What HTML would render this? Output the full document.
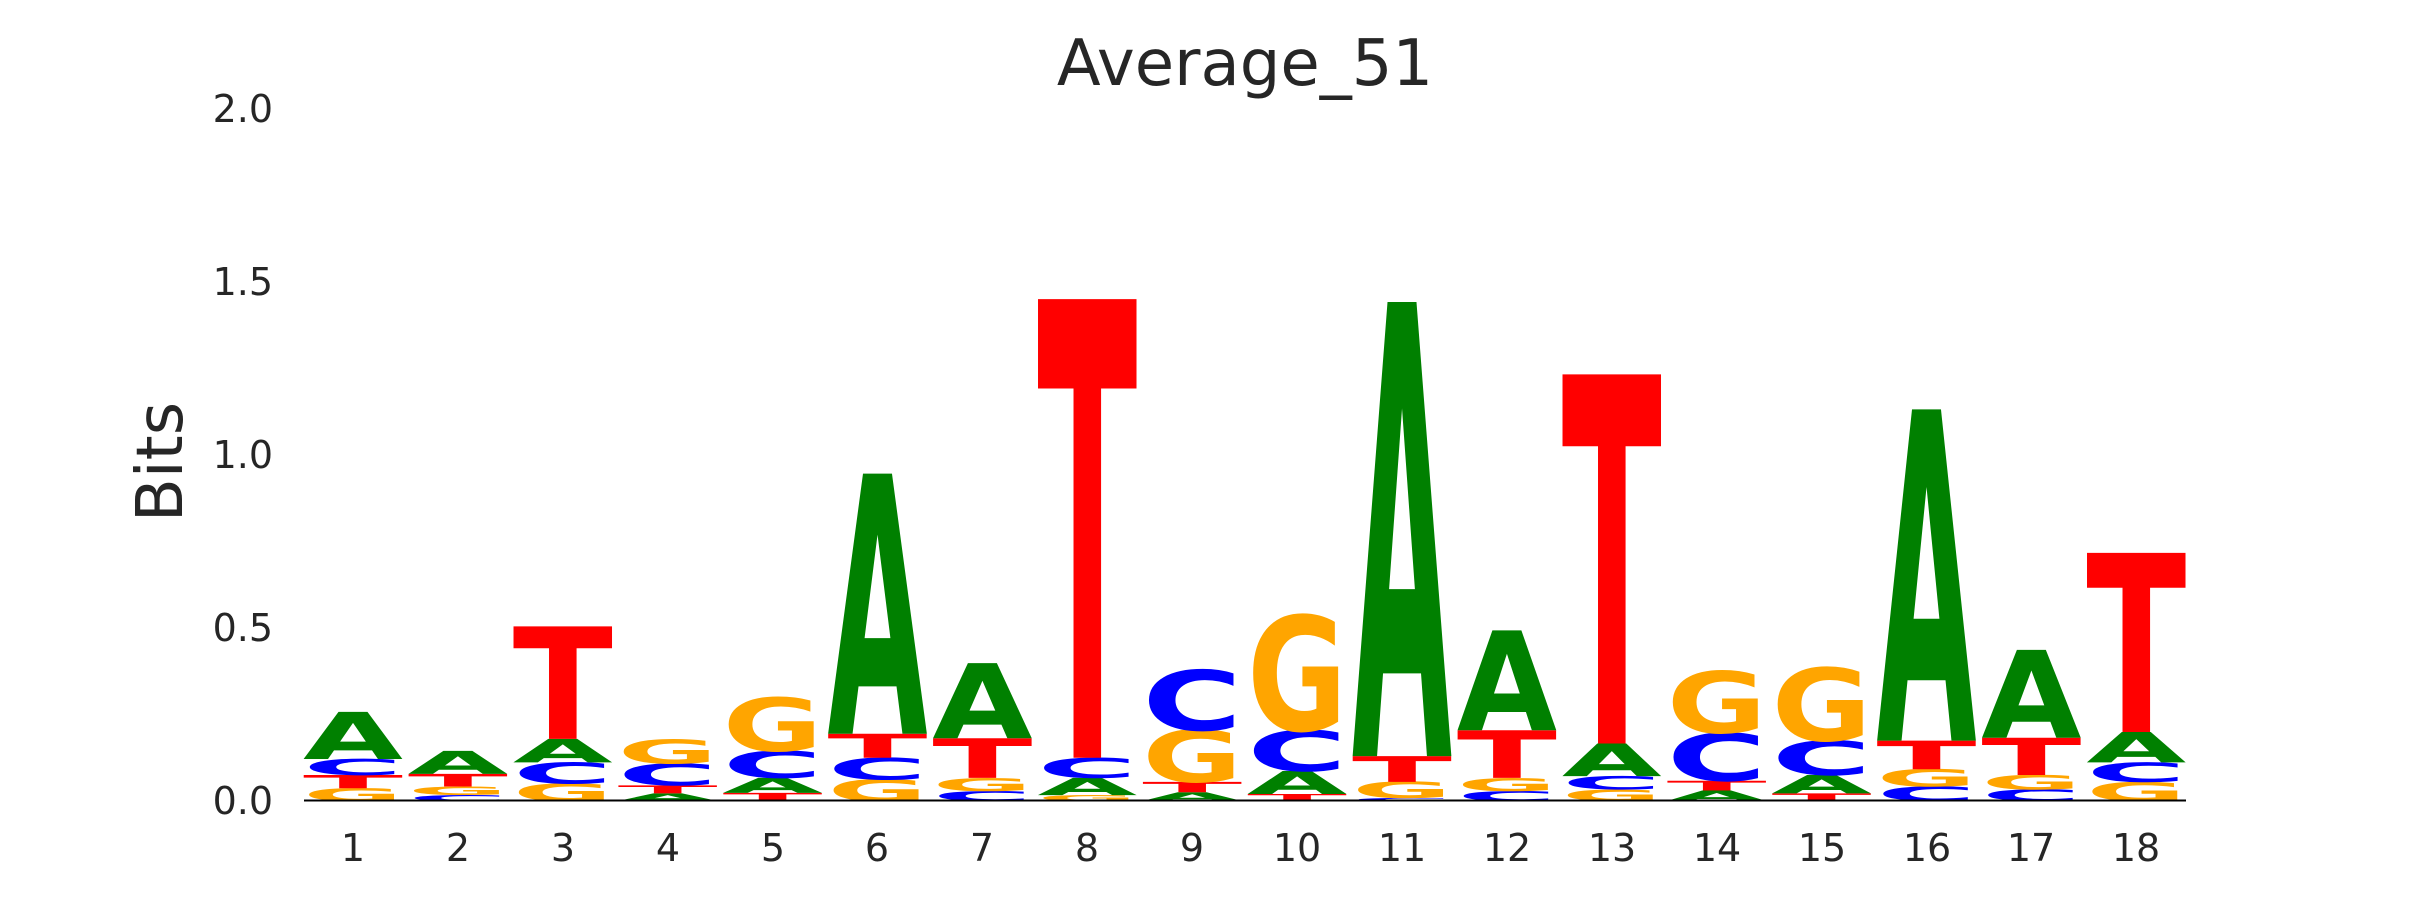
<!DOCTYPE html>
<html><head><meta charset="utf-8"><style>
html,body{margin:0;padding:0;background:#fff;}
svg{display:block;}
</style></head><body>
<svg width="2430" height="900" viewBox="0 0 2430 900" xmlns="http://www.w3.org/2000/svg">
<rect width="2430" height="900" fill="#fff"/>
<text x="1245" y="85" font-family="DejaVu Sans, Liberation Sans, sans-serif" font-size="64" fill="#262626" text-anchor="middle">Average_51</text>
<text transform="translate(182,462) rotate(-90)" font-family="DejaVu Sans, Liberation Sans, sans-serif" font-size="64" fill="#262626" text-anchor="middle">Bits</text>
<g font-family="DejaVu Sans, Liberation Sans, sans-serif" font-size="38" fill="#262626" text-anchor="end">
<text x="273" y="814">0.0</text>
<text x="273" y="641">0.5</text>
<text x="273" y="468">1.0</text>
<text x="273" y="295">1.5</text>
<text x="273" y="122">2.0</text>
</g>
<g font-family="DejaVu Sans, Liberation Sans, sans-serif" font-size="38" fill="#262626" text-anchor="middle">
<text x="353" y="861">1</text><text x="458" y="861">2</text><text x="563" y="861">3</text><text x="668" y="861">4</text><text x="773" y="861">5</text><text x="877" y="861">6</text><text x="982" y="861">7</text><text x="1087" y="861">8</text><text x="1192" y="861">9</text><text x="1297" y="861">10</text><text x="1402" y="861">11</text><text x="1507" y="861">12</text><text x="1612" y="861">13</text><text x="1717" y="861">14</text><text x="1822" y="861">15</text><text x="1927" y="861">16</text><text x="2031" y="861">17</text><text x="2136" y="861">18</text>
</g>
<g transform="scale(1,0.5741)" font-family="DejaVu Sans, Liberation Sans, sans-serif" font-weight="bold" font-size="100">
<text x="303" textLength="100" lengthAdjust="spacingAndGlyphs" fill="#ffa500" transform="translate(0,1395) scale(1,.302)">G</text>
<text x="303" textLength="100" lengthAdjust="spacingAndGlyphs" fill="#ff0000" transform="translate(0,1373) scale(1,.316)">T</text>
<text x="303" textLength="100" lengthAdjust="spacingAndGlyphs" fill="#0000ff" transform="translate(0,1350) scale(1,.384)">C</text>
<text x="303" textLength="100" lengthAdjust="spacingAndGlyphs" fill="#008000" transform="translate(0,1322) scale(1,1.125)">A</text>
<text x="407.9" textLength="100" lengthAdjust="spacingAndGlyphs" fill="#0000ff" transform="translate(0,1395) scale(1,.137)">C</text>
<text x="407.9" textLength="100" lengthAdjust="spacingAndGlyphs" fill="#ffa500" transform="translate(0,1385) scale(1,.206)">G</text>
<text x="407.9" textLength="100" lengthAdjust="spacingAndGlyphs" fill="#ff0000" transform="translate(0,1370) scale(1,.302)">T</text>
<text x="407.9" textLength="100" lengthAdjust="spacingAndGlyphs" fill="#008000" transform="translate(0,1348) scale(1,.549)">A</text>
<text x="512.8" textLength="100" lengthAdjust="spacingAndGlyphs" fill="#ffa500" transform="translate(0,1395) scale(1,.412)">G</text>
<text x="512.8" textLength="100" lengthAdjust="spacingAndGlyphs" fill="#0000ff" transform="translate(0,1365) scale(1,.508)">C</text>
<text x="512.8" textLength="100" lengthAdjust="spacingAndGlyphs" fill="#008000" transform="translate(0,1328) scale(1,.562)">A</text>
<text x="512.8" textLength="100" lengthAdjust="spacingAndGlyphs" fill="#ff0000" transform="translate(0,1287) scale(1,2.689)">T</text>
<text x="617.7" textLength="100" lengthAdjust="spacingAndGlyphs" fill="#008000" transform="translate(0,1395) scale(1,.178)">A</text>
<text x="617.7" textLength="100" lengthAdjust="spacingAndGlyphs" fill="#ff0000" transform="translate(0,1382) scale(1,.192)">T</text>
<text x="617.7" textLength="100" lengthAdjust="spacingAndGlyphs" fill="#0000ff" transform="translate(0,1368) scale(1,.521)">C</text>
<text x="617.7" textLength="100" lengthAdjust="spacingAndGlyphs" fill="#ffa500" transform="translate(0,1330) scale(1,.576)">G</text>
<text x="722.6" textLength="100" lengthAdjust="spacingAndGlyphs" fill="#ff0000" transform="translate(0,1395) scale(1,.192)">T</text>
<text x="722.6" textLength="100" lengthAdjust="spacingAndGlyphs" fill="#008000" transform="translate(0,1381) scale(1,.357)">A</text>
<text x="722.6" textLength="100" lengthAdjust="spacingAndGlyphs" fill="#0000ff" transform="translate(0,1355) scale(1,.645)">C</text>
<text x="722.6" textLength="100" lengthAdjust="spacingAndGlyphs" fill="#ffa500" transform="translate(0,1308) scale(1,1.276)">G</text>
<text x="827.5" textLength="100" lengthAdjust="spacingAndGlyphs" fill="#ffa500" transform="translate(0,1395) scale(1,.508)">G</text>
<text x="827.5" textLength="100" lengthAdjust="spacingAndGlyphs" fill="#0000ff" transform="translate(0,1358) scale(1,.521)">C</text>
<text x="827.5" textLength="100" lengthAdjust="spacingAndGlyphs" fill="#ff0000" transform="translate(0,1320) scale(1,.576)">T</text>
<text x="827.5" textLength="100" lengthAdjust="spacingAndGlyphs" fill="#008000" transform="translate(0,1278) scale(1,6.214)">A</text>
<text x="932.4" textLength="100" lengthAdjust="spacingAndGlyphs" fill="#0000ff" transform="translate(0,1395) scale(1,.233)">C</text>
<text x="932.4" textLength="100" lengthAdjust="spacingAndGlyphs" fill="#ffa500" transform="translate(0,1378) scale(1,.316)">G</text>
<text x="932.4" textLength="100" lengthAdjust="spacingAndGlyphs" fill="#ff0000" transform="translate(0,1355) scale(1,.947)">T</text>
<text x="932.4" textLength="100" lengthAdjust="spacingAndGlyphs" fill="#008000" transform="translate(0,1286) scale(1,1.797)">A</text>
<text x="1037.3" textLength="100" lengthAdjust="spacingAndGlyphs" fill="#ffa500" transform="translate(0,1395) scale(1,.137)">G</text>
<text x="1037.3" textLength="100" lengthAdjust="spacingAndGlyphs" fill="#008000" transform="translate(0,1385) scale(1,.412)">A</text>
<text x="1037.3" textLength="100" lengthAdjust="spacingAndGlyphs" fill="#0000ff" transform="translate(0,1355) scale(1,.480)">C</text>
<text x="1037.3" textLength="100" lengthAdjust="spacingAndGlyphs" fill="#ff0000" transform="translate(0,1320) scale(1,10.96)">T</text>
<text x="1142.2" textLength="100" lengthAdjust="spacingAndGlyphs" fill="#008000" transform="translate(0,1395) scale(1,.206)">A</text>
<text x="1142.2" textLength="100" lengthAdjust="spacingAndGlyphs" fill="#ff0000" transform="translate(0,1380) scale(1,.247)">T</text>
<text x="1142.2" textLength="100" lengthAdjust="spacingAndGlyphs" fill="#ffa500" transform="translate(0,1362) scale(1,1.235)">G</text>
<text x="1142.2" textLength="100" lengthAdjust="spacingAndGlyphs" fill="#0000ff" transform="translate(0,1272) scale(1,1.440)">C</text>
<text x="1247.1" textLength="100" lengthAdjust="spacingAndGlyphs" fill="#ff0000" transform="translate(0,1395) scale(1,.165)">T</text>
<text x="1247.1" textLength="100" lengthAdjust="spacingAndGlyphs" fill="#008000" transform="translate(0,1383) scale(1,.549)">A</text>
<text x="1247.1" textLength="100" lengthAdjust="spacingAndGlyphs" fill="#0000ff" transform="translate(0,1343) scale(1,.974)">C</text>
<text x="1247.1" textLength="100" lengthAdjust="spacingAndGlyphs" fill="#ffa500" transform="translate(0,1272) scale(1,2.743)">G</text>
<text x="1352" textLength="100" lengthAdjust="spacingAndGlyphs" fill="#0000ff" transform="translate(0,1395) scale(1,.069)">C</text>
<text x="1352" textLength="100" lengthAdjust="spacingAndGlyphs" fill="#ffa500" transform="translate(0,1390) scale(1,.384)">G</text>
<text x="1352" textLength="100" lengthAdjust="spacingAndGlyphs" fill="#ff0000" transform="translate(0,1362) scale(1,.617)">T</text>
<text x="1352" textLength="100" lengthAdjust="spacingAndGlyphs" fill="#008000" transform="translate(0,1317) scale(1,10.85)">A</text>
<text x="1456.9" textLength="100" lengthAdjust="spacingAndGlyphs" fill="#0000ff" transform="translate(0,1395) scale(1,.233)">C</text>
<text x="1456.9" textLength="100" lengthAdjust="spacingAndGlyphs" fill="#ffa500" transform="translate(0,1378) scale(1,.316)">G</text>
<text x="1456.9" textLength="100" lengthAdjust="spacingAndGlyphs" fill="#ff0000" transform="translate(0,1355) scale(1,1.139)">T</text>
<text x="1456.9" textLength="100" lengthAdjust="spacingAndGlyphs" fill="#008000" transform="translate(0,1272) scale(1,2.387)">A</text>
<text x="1561.8" textLength="100" lengthAdjust="spacingAndGlyphs" fill="#ffa500" transform="translate(0,1395) scale(1,.274)">G</text>
<text x="1561.8" textLength="100" lengthAdjust="spacingAndGlyphs" fill="#0000ff" transform="translate(0,1375) scale(1,.316)">C</text>
<text x="1561.8" textLength="100" lengthAdjust="spacingAndGlyphs" fill="#008000" transform="translate(0,1352) scale(1,.782)">A</text>
<text x="1561.8" textLength="100" lengthAdjust="spacingAndGlyphs" fill="#ff0000" transform="translate(0,1295) scale(1,8.820)">T</text>
<text x="1666.7" textLength="100" lengthAdjust="spacingAndGlyphs" fill="#008000" transform="translate(0,1395) scale(1,.247)">A</text>
<text x="1666.7" textLength="100" lengthAdjust="spacingAndGlyphs" fill="#ff0000" transform="translate(0,1377) scale(1,.233)">T</text>
<text x="1666.7" textLength="100" lengthAdjust="spacingAndGlyphs" fill="#0000ff" transform="translate(0,1360) scale(1,1.139)">C</text>
<text x="1666.7" textLength="100" lengthAdjust="spacingAndGlyphs" fill="#ffa500" transform="translate(0,1277) scale(1,1.468)">G</text>
<text x="1771.6" textLength="100" lengthAdjust="spacingAndGlyphs" fill="#ff0000" transform="translate(0,1395) scale(1,.178)">T</text>
<text x="1771.6" textLength="100" lengthAdjust="spacingAndGlyphs" fill="#008000" transform="translate(0,1382) scale(1,.439)">A</text>
<text x="1771.6" textLength="100" lengthAdjust="spacingAndGlyphs" fill="#0000ff" transform="translate(0,1350) scale(1,.823)">C</text>
<text x="1771.6" textLength="100" lengthAdjust="spacingAndGlyphs" fill="#ffa500" transform="translate(0,1290) scale(1,1.742)">G</text>
<text x="1876.5" textLength="100" lengthAdjust="spacingAndGlyphs" fill="#0000ff" transform="translate(0,1395) scale(1,.343)">C</text>
<text x="1876.5" textLength="100" lengthAdjust="spacingAndGlyphs" fill="#ffa500" transform="translate(0,1370) scale(1,.412)">G</text>
<text x="1876.5" textLength="100" lengthAdjust="spacingAndGlyphs" fill="#ff0000" transform="translate(0,1340) scale(1,.686)">T</text>
<text x="1876.5" textLength="100" lengthAdjust="spacingAndGlyphs" fill="#008000" transform="translate(0,1290) scale(1,7.915)">A</text>
<text x="1981.4" textLength="100" lengthAdjust="spacingAndGlyphs" fill="#0000ff" transform="translate(0,1395) scale(1,.274)">C</text>
<text x="1981.4" textLength="100" lengthAdjust="spacingAndGlyphs" fill="#ffa500" transform="translate(0,1375) scale(1,.343)">G</text>
<text x="1981.4" textLength="100" lengthAdjust="spacingAndGlyphs" fill="#ff0000" transform="translate(0,1350) scale(1,.892)">T</text>
<text x="1981.4" textLength="100" lengthAdjust="spacingAndGlyphs" fill="#008000" transform="translate(0,1285) scale(1,2.099)">A</text>
<text x="2086.3" textLength="100" lengthAdjust="spacingAndGlyphs" fill="#ffa500" transform="translate(0,1395) scale(1,.453)">G</text>
<text x="2086.3" textLength="100" lengthAdjust="spacingAndGlyphs" fill="#0000ff" transform="translate(0,1362) scale(1,.466)">C</text>
<text x="2086.3" textLength="100" lengthAdjust="spacingAndGlyphs" fill="#008000" transform="translate(0,1328) scale(1,.727)">A</text>
<text x="2086.3" textLength="100" lengthAdjust="spacingAndGlyphs" fill="#ff0000" transform="translate(0,1275) scale(1,4.280)">T</text>
</g>
<line x1="304" y1="800.5" x2="2186" y2="800.5" stroke="#000" stroke-width="2"/>
</svg>
</body></html>
